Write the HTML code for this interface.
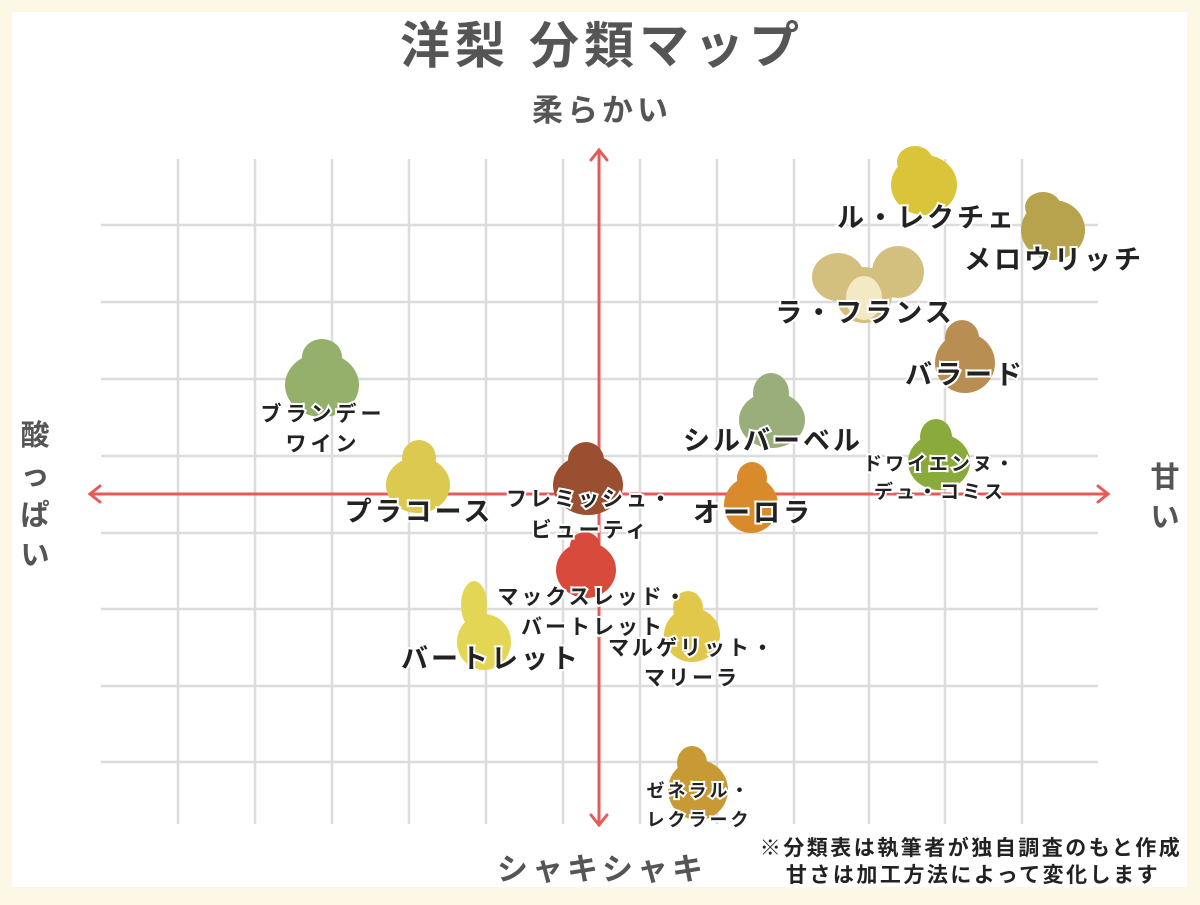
<!DOCTYPE html>
<html><head><meta charset="utf-8"><style>
body{margin:0;width:1200px;height:900px;background:#fdf8e6;font-family:"Liberation Sans","Noto Sans CJK JP",sans-serif;}
svg text{font-family:"Liberation Sans","Noto Sans CJK JP",sans-serif;font-weight:bold;}
</style></head><body>
<svg width="1200" height="900" viewBox="0 0 1200 900">
<rect x="0" y="0" width="1200" height="900" fill="#fdf8e6"/>
<rect x="12" y="12" width="1175" height="875" fill="#ffffff"/>
<g stroke="#dcdcdc" stroke-width="2.5">
<line x1="178" y1="159" x2="178" y2="824"/><line x1="255" y1="159" x2="255" y2="824"/>
<line x1="332" y1="159" x2="332" y2="824"/><line x1="409" y1="159" x2="409" y2="824"/>
<line x1="486" y1="159" x2="486" y2="824"/><line x1="563" y1="159" x2="563" y2="824"/>
<line x1="640" y1="159" x2="640" y2="824"/><line x1="717" y1="159" x2="717" y2="824"/>
<line x1="794" y1="159" x2="794" y2="824"/><line x1="869" y1="159" x2="869" y2="824"/>
<line x1="945" y1="159" x2="945" y2="824"/><line x1="1022" y1="159" x2="1022" y2="824"/>
<line x1="101" y1="225" x2="1098" y2="225"/><line x1="101" y1="302" x2="1098" y2="302"/>
<line x1="101" y1="379" x2="1098" y2="379"/><line x1="101" y1="456" x2="1098" y2="456"/>
<line x1="101" y1="533" x2="1098" y2="533"/><line x1="101" y1="609" x2="1098" y2="609"/>
<line x1="101" y1="686" x2="1098" y2="686"/><line x1="101" y1="762" x2="1098" y2="762"/>
</g>
<g stroke="#e85a5a" stroke-width="3" fill="none" stroke-linecap="round">
<line x1="90" y1="494" x2="1108" y2="494"/><line x1="599" y1="150" x2="599" y2="825"/>
<polyline points="100,486 90,494 100,502"/><polyline points="1098,486 1108,494 1098,502"/>
<polyline points="591,160 599,150 607,160"/><polyline points="591,815 599,825 607,815"/>
</g>
<g>
<g fill="#d9c43a"><ellipse cx="924" cy="185" rx="33" ry="30"/><ellipse cx="915" cy="162" rx="18" ry="16"/></g>
<g fill="#b7a24e"><ellipse cx="1053" cy="230" rx="32" ry="30"/><ellipse cx="1043" cy="207" rx="18" ry="15"/></g>
<g fill="#d4c07e"><ellipse cx="838" cy="277" rx="26" ry="24"/><ellipse cx="898" cy="272" rx="26" ry="26"/><ellipse cx="864" cy="295" rx="28" ry="28"/></g>
<ellipse cx="864" cy="298" rx="18" ry="22" fill="#f3eac5"/>
<g fill="#b98e52"><ellipse cx="965" cy="363" rx="30" ry="30"/><ellipse cx="962" cy="338" rx="17" ry="18"/></g>
<g fill="#8aab3c"><ellipse cx="939" cy="462" rx="31" ry="28"/><ellipse cx="936" cy="437" rx="16" ry="18"/></g>
<g fill="#9aae7c"><ellipse cx="772" cy="420" rx="33" ry="28"/><ellipse cx="771" cy="393" rx="18" ry="20"/></g>
<g fill="#d98a2a"><ellipse cx="751" cy="505" rx="27" ry="28"/><ellipse cx="752" cy="478" rx="15" ry="16"/></g>
<g fill="#94b06a"><ellipse cx="322" cy="385" rx="37" ry="32"/><ellipse cx="322" cy="357" rx="20" ry="18"/></g>
<g fill="#dcc950"><ellipse cx="418" cy="485" rx="32" ry="28"/><ellipse cx="419" cy="458" rx="17" ry="18"/></g>
<g fill="#9a5030"><ellipse cx="588" cy="485" rx="35" ry="30"/><ellipse cx="586" cy="460" rx="18" ry="18"/></g>
<g fill="#d84a3c"><ellipse cx="586" cy="570" rx="30" ry="28"/><ellipse cx="585" cy="546" rx="15" ry="14"/></g>
<g fill="#e3d655"><ellipse cx="484" cy="642" rx="27" ry="28"/><ellipse cx="474" cy="605" rx="13" ry="24"/></g>
<g fill="#e2c84a"><ellipse cx="692" cy="635" rx="28" ry="27"/><ellipse cx="688" cy="608" rx="15" ry="17"/></g>
<g fill="#c79a35"><ellipse cx="698" cy="790" rx="30" ry="30"/><ellipse cx="692" cy="763" rx="15" ry="17"/></g>
</g>
<g fill="#555" text-anchor="middle">
<text x="602" y="63" font-size="50" letter-spacing="5">洋梨 分類マップ</text>
<text x="602" y="121" font-size="31" letter-spacing="4">柔らかい</text>
<text x="602" y="880" font-size="31" letter-spacing="4">シャキシャキ</text>
<text x="1165" y="487" font-size="29">甘</text><text x="1165" y="527" font-size="29">い</text>
<text x="35" y="445" font-size="29">酸</text><text x="35" y="485" font-size="29">っ</text>
<text x="35" y="525" font-size="29">ぱ</text><text x="35" y="565" font-size="29">い</text>
</g>
<g fill="#222" text-anchor="middle" stroke="#fff" stroke-width="4" paint-order="stroke">
<text x="927" y="227" font-size="27" letter-spacing="3">ル・レクチェ</text>
<text x="1054" y="269" font-size="27" letter-spacing="3">メロウリッチ</text>
<text x="865" y="322" font-size="27" letter-spacing="3">ラ・フランス</text>
<text x="965" y="384" font-size="27" letter-spacing="3">バラード</text>
<text x="773" y="450" font-size="27" letter-spacing="3">シルバーベル</text>
<text x="940" y="470" font-size="19" letter-spacing="3">ドワイエンヌ・</text>
<text x="940" y="498" font-size="19" letter-spacing="3">デュ・コミス</text>
<text x="753" y="522" font-size="27" letter-spacing="3">オーロラ</text>
<text x="323" y="421" font-size="21" letter-spacing="4">ブランデー</text>
<text x="323" y="451" font-size="21" letter-spacing="4">ワイン</text>
<text x="419" y="521" font-size="27" letter-spacing="3">プラコース</text>
<text x="590" y="506" font-size="21" letter-spacing="3">フレミッシュ・</text>
<text x="590" y="537" font-size="21" letter-spacing="3">ビューティ</text>
<text x="593" y="604" font-size="21" letter-spacing="3">マックスレッド・</text>
<text x="593" y="634" font-size="21" letter-spacing="3">バートレット</text>
<text x="491" y="668" font-size="27" letter-spacing="3">バートレット</text>
<text x="692" y="655" font-size="21" letter-spacing="3">マルゲリット・</text>
<text x="692" y="685" font-size="21" letter-spacing="3">マリーラ</text>
<text x="699" y="797" font-size="18" letter-spacing="3">ゼネラル・</text>
<text x="699" y="826" font-size="18" letter-spacing="3">レクラーク</text>
<text x="971" y="855" font-size="21" stroke="none" letter-spacing="2.5">※分類表は執筆者が独自調査のもと作成</text>
<text x="973" y="882" font-size="21" stroke="none" letter-spacing="2.5">甘さは加工方法によって変化します</text>
</g>
</svg>
</body></html>
